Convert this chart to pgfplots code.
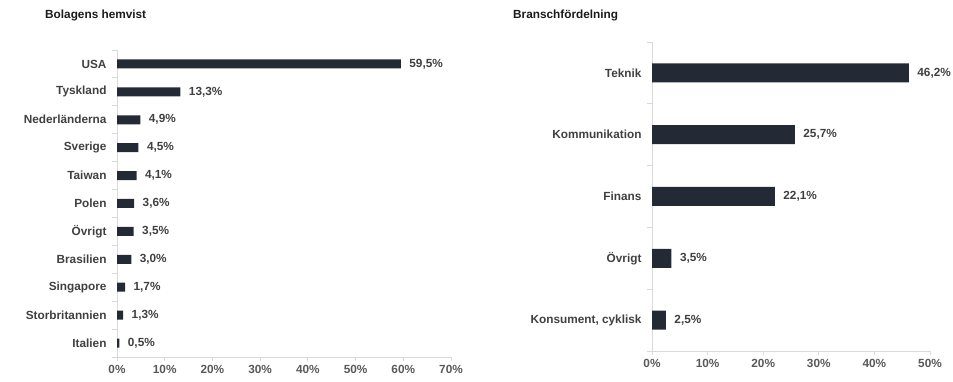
\documentclass[border=0pt]{standalone}
\usepackage{pgfplots}
\pgfplotsset{compat=1.18}
\usepackage{fontspec}
\setmainfont{Liberation Sans}
\definecolor{barcol}{HTML}{232A36}
\definecolor{axcol}{HTML}{D9D9D9}
\definecolor{labcol}{HTML}{404040}
\definecolor{tickcol}{HTML}{595959}
\definecolor{titlecol}{HTML}{1A1A1A}
\newcommand{\cf}{\fontsize{11.8}{13}\selectfont\bfseries}
\pgfplotsset{
  mystyle/.style={
    scale only axis,
    anchor=south west,
    xbar,
    y dir=reverse,
    axis lines=left,
    axis line style={-,draw=axcol,line width=0.9pt},
    tick align=outside,
    xmin=0,
    xtick style={draw=axcol,line width=0.9pt},
    major tick length=4pt,
    ytick style={draw=none},
    ytick=data,
    /pgf/number format/assume math mode=true,
    xticklabel={\pgfmathprintnumber{\tick}\%},
    ticklabel style={font=\cf},
    xticklabel style={text=tickcol, yshift=-1pt},
    yticklabel style={text=labcol, xshift=-3pt},
    point meta=x,
    nodes near coords={\pgfmathprintnumber[fixed,fixed zerofill,precision=1,use comma]{\pgfplotspointmeta}\%},
    nodes near coords style={font=\cf, text=labcol, anchor=west, xshift=5pt},
    extra y tick style={ytick style={draw=axcol,line width=0.9pt}, major tick length=5pt},
    extra y tick labels={},
    clip=false,
  }
}
\begin{document}
\begin{tikzpicture}
\useasboundingbox (0pt,0pt) rectangle (953pt,382pt);
\node[anchor=west, font=\cf, text=titlecol, inner sep=0pt] at (45pt,367pt) {Bolagens hemvist};
\node[anchor=west, font=\cf, text=titlecol, inner sep=0pt] at (513pt,367pt) {Branschfördelning};
\begin{axis}[mystyle,
  at={(117pt,25pt)}, width=334pt, height=307pt,
  xmax=70, xtick={0,10,...,70},
  ymin=-0.5, ymax=10.5,
  bar width=9pt,
  yticklabels={USA,Tyskland,Nederländerna,Sverige,Taiwan,Polen,Övrigt,Brasilien,Singapore,Storbritannien,Italien},
  extra y ticks={-0.5,0.5,1.5,2.5,3.5,4.5,5.5,6.5,7.5,8.5,9.5,10.5},
]
\addplot[fill=barcol, draw=none] coordinates {
(59.5,0) (13.3,1) (4.9,2) (4.5,3) (4.1,4) (3.6,5) (3.5,6) (3.0,7) (1.7,8) (1.3,9) (0.5,10)};
\end{axis}
\begin{axis}[mystyle,
  at={(652pt,31pt)}, width=278pt, height=309pt,
  xmax=50, xtick={0,10,...,50},
  ymin=-0.5, ymax=4.5,
  bar width=19pt,
  yticklabels={Teknik,Kommunikation,Finans,Övrigt,{Konsument, cyklisk}},
  extra y ticks={-0.5,0.5,1.5,2.5,3.5,4.5},
]
\addplot[fill=barcol, draw=none] coordinates {
(46.2,0) (25.7,1) (22.1,2) (3.5,3) (2.5,4)};
\end{axis}
\end{tikzpicture}
\end{document}
